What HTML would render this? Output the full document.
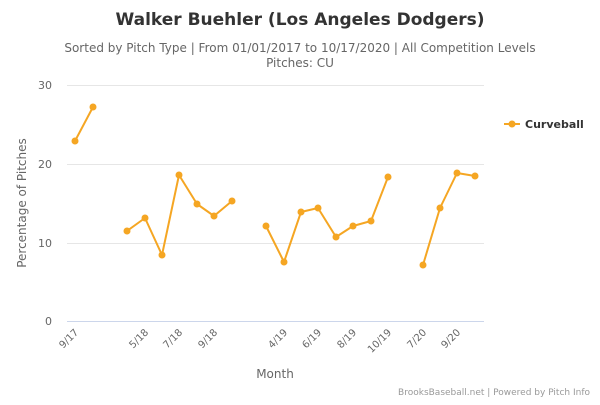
<!DOCTYPE html>
<html><head><style>
body{margin:0;background:#fff;}
svg{font-family:"DejaVu Sans",sans-serif;}
</style></head><body>
<svg width="600" height="400" xmlns="http://www.w3.org/2000/svg">
<text x="300" y="25" text-anchor="middle" font-size="17" font-weight="bold" fill="#333">Walker Buehler (Los Angeles Dodgers)</text>
<text x="300" y="52" text-anchor="middle" font-size="12" fill="#666">Sorted by Pitch Type | From 01/01/2017 to 10/17/2020 | All Competition Levels</text>
<text x="300" y="67" text-anchor="middle" font-size="12" fill="#666">Pitches: CU</text>
<g stroke="#e6e6e6" stroke-width="1">
<line x1="67" y1="85.5" x2="484" y2="85.5"/>
<line x1="67" y1="164.5" x2="484" y2="164.5"/>
<line x1="67" y1="243.5" x2="484" y2="243.5"/>
</g>
<line x1="67" y1="321.5" x2="484" y2="321.5" stroke="#ccd6eb"/>
<g font-size="11" fill="#666" text-anchor="end">
<text x="52" y="89">30</text><text x="52" y="168">20</text><text x="52" y="247">10</text><text x="52" y="325">0</text>
</g>
<text transform="translate(26,203) rotate(-90)" text-anchor="middle" font-size="12" fill="#666">Percentage of Pitches</text>
<text x="275" y="378" text-anchor="middle" font-size="12" fill="#666">Month</text>
<g font-size="10" fill="#666" text-anchor="end">
<text transform="translate(79,333) rotate(-45)">9/17</text>
<text transform="translate(149,333) rotate(-45)">5/18</text>
<text transform="translate(183,333) rotate(-45)">7/18</text>
<text transform="translate(218,333) rotate(-45)">9/18</text>
<text transform="translate(288,333) rotate(-45)">4/19</text>
<text transform="translate(322,333) rotate(-45)">6/19</text>
<text transform="translate(357,333) rotate(-45)">8/19</text>
<text transform="translate(392,333) rotate(-45)">10/19</text>
<text transform="translate(427,333) rotate(-45)">7/20</text>
<text transform="translate(461,333) rotate(-45)">9/20</text>
</g>
<g fill="none" stroke="#f5a623" stroke-width="2" stroke-linejoin="round">
<polyline points="75,141 93,107"/>
<polyline points="127,231 145,218 162,255 179,175 197,204 214,216 232,201"/>
<polyline points="266,226 284,262 301,212 318,208 336,237 353,226 371,221 388,177"/>
<polyline points="423,265 440,208 457,173 475,176"/>
</g>
<g fill="#f5a623">
<circle cx="75" cy="141" r="3.5"/><circle cx="93" cy="107" r="3.5"/>
<circle cx="127" cy="231" r="3.5"/><circle cx="145" cy="218" r="3.5"/><circle cx="162" cy="255" r="3.5"/><circle cx="179" cy="175" r="3.5"/><circle cx="197" cy="204" r="3.5"/><circle cx="214" cy="216" r="3.5"/><circle cx="232" cy="201" r="3.5"/>
<circle cx="266" cy="226" r="3.5"/><circle cx="284" cy="262" r="3.5"/><circle cx="301" cy="212" r="3.5"/><circle cx="318" cy="208" r="3.5"/><circle cx="336" cy="237" r="3.5"/><circle cx="353" cy="226" r="3.5"/><circle cx="371" cy="221" r="3.5"/><circle cx="388" cy="177" r="3.5"/>
<circle cx="423" cy="265" r="3.5"/><circle cx="440" cy="208" r="3.5"/><circle cx="457" cy="173" r="3.5"/><circle cx="475" cy="176" r="3.5"/>
</g>
<line x1="504" y1="124" x2="520" y2="124" stroke="#f5a623" stroke-width="2"/>
<circle cx="512" cy="124" r="3.5" fill="#f5a623"/>
<text x="525" y="128" font-size="11" font-weight="bold" fill="#333">Curveball</text>
<text x="590" y="395" text-anchor="end" font-size="9" fill="#999">BrooksBaseball.net | Powered by Pitch Info</text>
</svg>
</body></html>
